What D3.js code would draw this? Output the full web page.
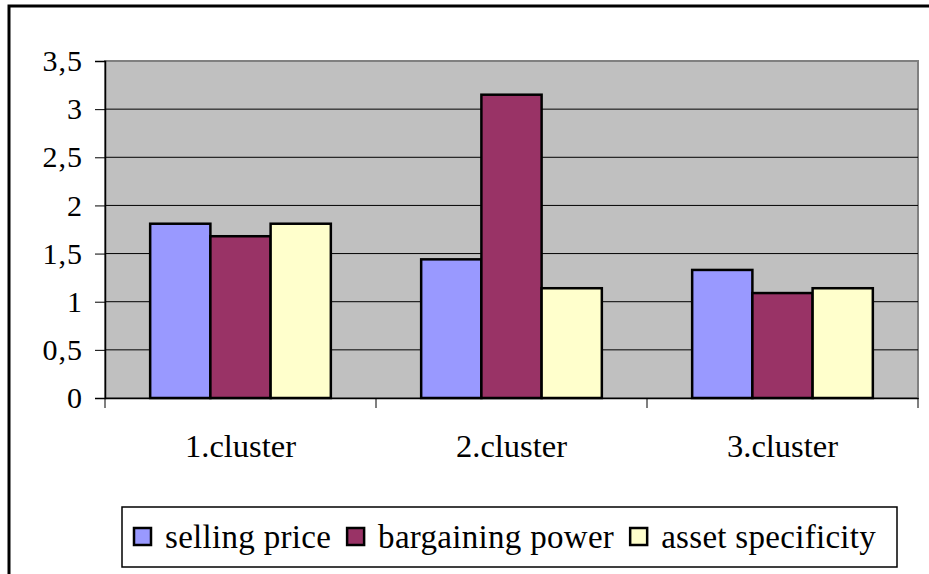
<!DOCTYPE html>
<html>
<head>
<meta charset="utf-8">
<script src="https://cdn.jsdelivr.net/npm/d3@7"></script>
<style>
  body { margin: 0; background: #fff; }
  svg text { font-family: "Liberation Serif", "Times New Roman", "DejaVu Serif", serif !important; fill: #000; }
</style>
</head>
<body>
<svg id="chart" width="929" height="574"></svg>
<script>
var categories = ["1.cluster", "2.cluster", "3.cluster"];
var seriesNames = ["selling price", "bargaining power", "asset specificity"];
var sellingPrice = [1.81, 1.44, 1.33];
var bargainingPower = [1.68, 3.15, 1.09];
var assetSpecificity = [1.81, 1.14, 1.14];
var seriesColors = ["#9999ff", "#993366", "#ffffcc"];
var yTicks = [0, 0.5, 1, 1.5, 2, 2.5, 3, 3.5];

var svg = d3.select("#chart");
var plot = { left: 105, top: 61, right: 918, bottom: 398 };

// outer frame
svg.append("rect")
    .attr("x", 9).attr("y", 6)
    .attr("width", 940).attr("height", 600)
    .attr("fill", "none").attr("stroke", "black").attr("stroke-width", 3);

var x0 = d3.scaleBand().domain(categories).range([plot.left, plot.right]).paddingInner(0).paddingOuter(0);
var x1 = d3.scaleBand().domain(seriesNames).range([0, x0.bandwidth()]).paddingInner(0).paddingOuter(0.75);
var y = d3.scaleLinear().domain([0, 3.5]).range([plot.bottom, plot.top]);

var data = categories.map(function(c, i){
    return { key: c, values: [sellingPrice[i], bargainingPower[i], assetSpecificity[i]] };
});

// plot background
svg.append("rect")
    .attr("x", plot.left).attr("y", plot.top)
    .attr("width", plot.right - plot.left).attr("height", plot.bottom - plot.top)
    .attr("fill", "#c0c0c0").attr("stroke", "#808080").attr("stroke-width", 2);

// gridlines
svg.selectAll(".grid")
    .data(yTicks.filter(function(d){ return d > 0 && d < 3.5; }))
    .enter().append("line")
    .attr("class", "grid")
    .attr("x1", plot.left).attr("x2", plot.right)
    .attr("y1", function(d){ return y(d); }).attr("y2", function(d){ return y(d); })
    .attr("stroke", "#000").attr("stroke-width", 1);

// y axis
var yAxis = svg.append("g")
    .attr("transform", "translate(" + plot.left + ",0)")
    .call(d3.axisLeft(y).tickValues(yTicks).tickSize(10).tickPadding(12)
          .tickFormat(function(d){ return String(d).replace(".", ","); }));
yAxis.select(".domain").attr("stroke", "#000").attr("stroke-width", 1.5);
yAxis.selectAll(".tick line").attr("stroke", "#000");
yAxis.selectAll("text").style("font-size", "30px").style("letter-spacing", "1px");

// bars
var groups = svg.selectAll(".cat")
    .data(data)
    .enter().append("g")
    .attr("class", "cat")
    .attr("transform", function(d){ return "translate(" + x0(d.key) + ",0)"; });

groups.selectAll("rect")
    .data(function(d){ return d.values.map(function(v, j){ return { name: seriesNames[j], value: v, color: seriesColors[j] }; }); })
    .enter().append("rect")
    .attr("x", function(d){ return x1(d.name); })
    .attr("width", x1.bandwidth())
    .attr("y", function(d){ return y(d.value); })
    .attr("height", function(d){ return y(0) - y(d.value); })
    .attr("fill", function(d){ return d.color; })
    .attr("stroke", "#000").attr("stroke-width", 2.5);

// x axis
var xAxis = svg.append("g")
    .attr("transform", "translate(0," + plot.bottom + ")")
    .call(d3.axisBottom(x0).tickSize(0).tickPadding(36));
xAxis.select(".domain").attr("stroke", "#000").attr("stroke-width", 1.5);
xAxis.selectAll("text").style("font-size", "32.5px");
xAxis.selectAll(".sep")
    .data(d3.range(categories.length + 1))
    .enter().append("line")
    .attr("class", "sep")
    .attr("x1", function(i){ return plot.left + i * x0.step(); })
    .attr("x2", function(i){ return plot.left + i * x0.step(); })
    .attr("y1", 0).attr("y2", 10)
    .attr("stroke", "#000");

// legend
var legend = svg.append("g");
legend.append("rect")
    .attr("x", 122).attr("y", 507).attr("width", 775).attr("height", 60)
    .attr("fill", "#fff").attr("stroke", "#000").attr("stroke-width", 1.5);

var cursor = 134;
seriesNames.forEach(function(name, i){
    var item = legend.append("g").attr("transform", "translate(" + cursor + ",528)");
    item.append("rect")
        .attr("width", 17).attr("height", 17)
        .attr("fill", seriesColors[i])
        .attr("stroke", "#000").attr("stroke-width", 2.5);
    var t = item.append("text")
        .attr("x", 31).attr("y", 20)
        .style("font-size", "33px")
        .style("letter-spacing", "0.3px")
        .text(name);
    cursor += 31 + t.node().getComputedTextLength() + 16;
});
</script>
</body>
</html>
